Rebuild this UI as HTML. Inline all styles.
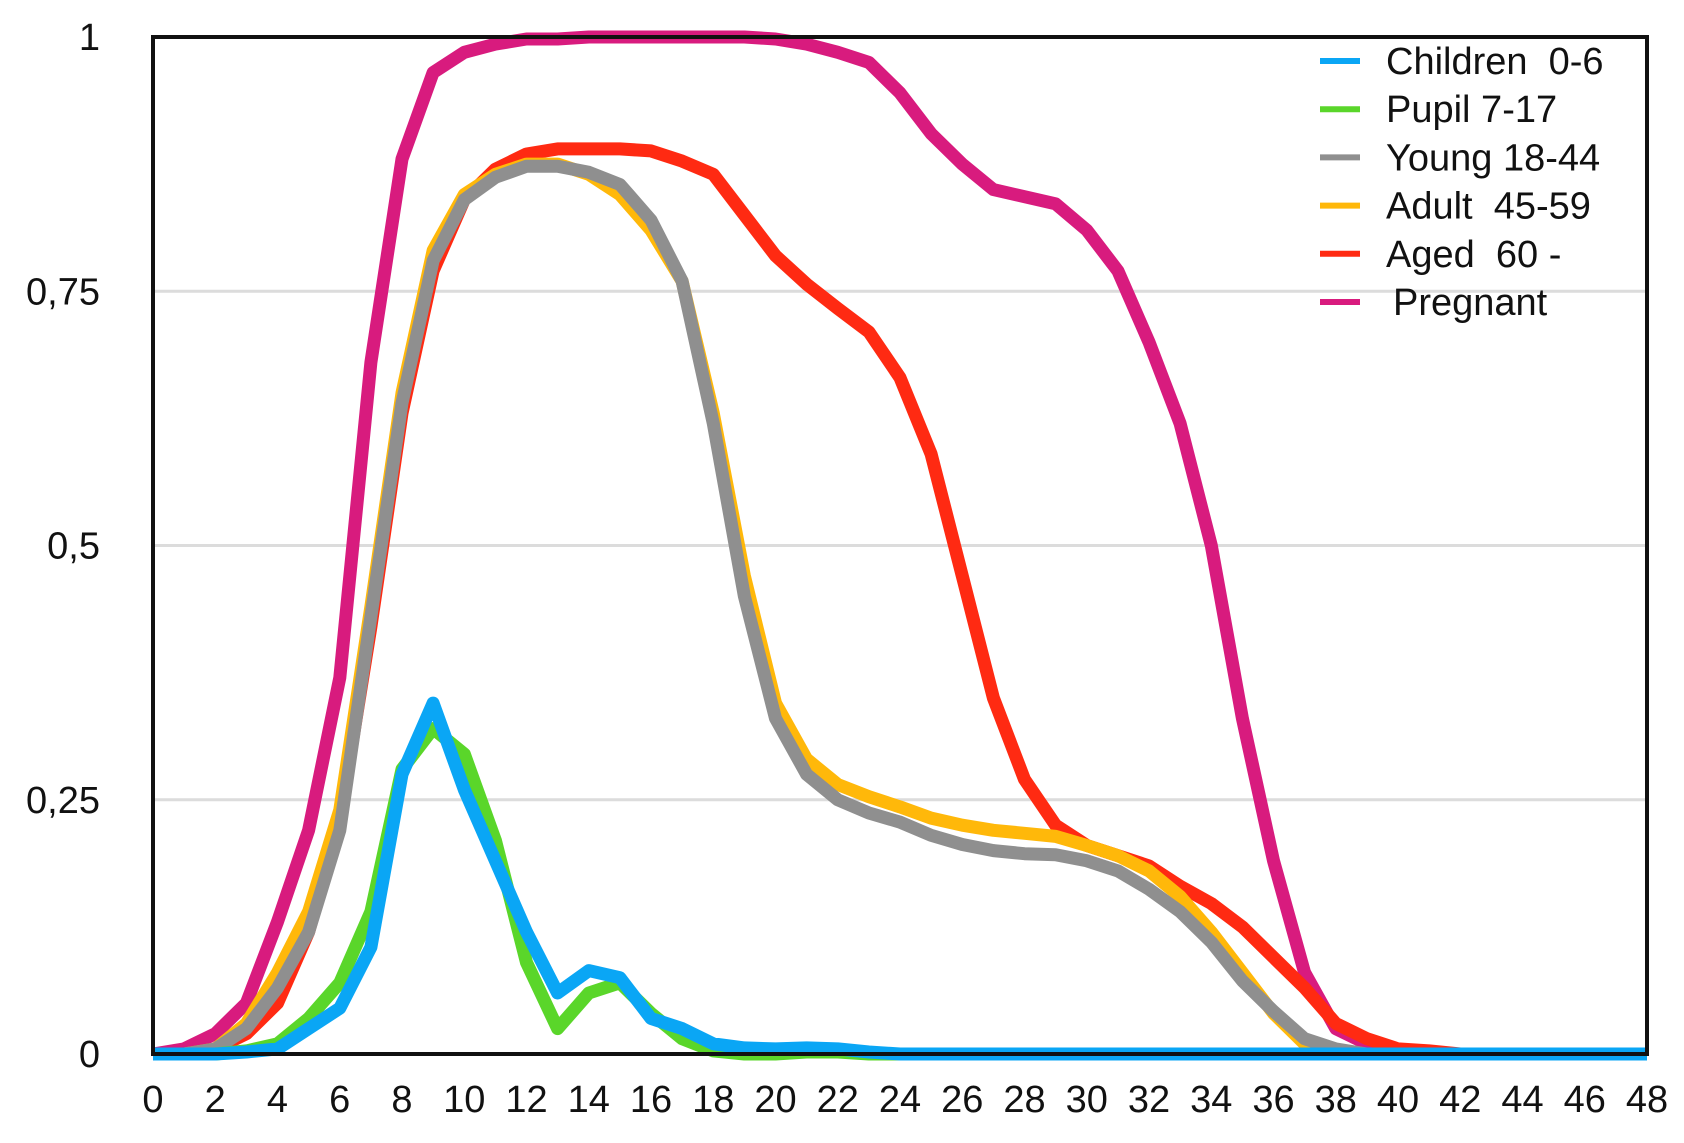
<!DOCTYPE html>
<html><head><meta charset="utf-8"><style>
html,body{margin:0;padding:0;background:#fff;}
svg{display:block;font-family:"Liberation Sans",Arial,sans-serif;}
#legend text{white-space:pre;}
</style></head><body>
<svg id="chart" width="1684" height="1143" viewBox="0 0 1684 1143">
<g id="grid"></g>
<g id="series"></g>
<rect x="153" y="37" width="1494" height="1017" fill="none" stroke="#111" stroke-width="4"/>
<g id="yticks"></g>
<g id="xticks"></g>
<g id="legend"></g>
</svg>
<script>
const xValues = [];
for (let i = 0; i <= 48; i++) xValues.push(i);
const xTickLabels = ["0","2","4","6","8","10","12","14","16","18","20","22","24","26","28","30","32","34","36","38","40","42","44","46","48"];
const yTickValues = [0, 0.25, 0.5, 0.75, 1];
const yTickLabels = ["0","0,25","0,5","0,75","1"];
const seriesNames = ["Children  0-6","Pupil 7-17","Young 18-44","Adult  45-59","Aged  60 -","Pregnant"];
const seriesColors = ["#0aa6f5","#5ad62a","#8f8f8f","#ffb80a","#ff2a12","#d81b7e"];
const children = [0,0,0,0.002,0.005,0.025,0.045,0.105,0.275,0.345,0.26,0.19,0.12,0.06,0.082,0.075,0.035,0.025,0.01,0.006,0.005,0.006,0.005,0.002,0,0,0,0,0,0,0,0,0,0,0,0,0,0,0,0,0,0,0,0,0,0,0,0,0];
const pupil = [0,0,0,0.003,0.01,0.035,0.07,0.14,0.28,0.32,0.295,0.21,0.09,0.025,0.06,0.07,0.04,0.015,0.003,0,0,0.002,0.002,0,0,0,0,0,0,0,0,0,0,0,0,0,0,0,0,0,0,0,0,0,0,0,0,0,0];
const young = [0,0,0.005,0.025,0.065,0.12,0.22,0.43,0.64,0.78,0.84,0.862,0.873,0.873,0.867,0.855,0.82,0.76,0.62,0.45,0.33,0.275,0.25,0.237,0.228,0.215,0.206,0.2,0.197,0.196,0.19,0.18,0.162,0.14,0.11,0.072,0.042,0.015,0.005,0,0,0,0,0,0,0,0,0,0];
const adult = [0,0,0.005,0.03,0.08,0.14,0.24,0.44,0.65,0.79,0.845,0.865,0.875,0.875,0.865,0.845,0.81,0.76,0.63,0.47,0.345,0.29,0.265,0.253,0.243,0.232,0.225,0.22,0.217,0.214,0.205,0.195,0.18,0.155,0.12,0.08,0.04,0.01,0,0,0,0,0,0,0,0,0,0,0];
const aged = [0,0,0.005,0.02,0.05,0.12,0.23,0.42,0.63,0.77,0.84,0.87,0.885,0.89,0.89,0.89,0.888,0.878,0.865,0.825,0.785,0.757,0.733,0.71,0.665,0.59,0.47,0.35,0.27,0.225,0.205,0.195,0.185,0.165,0.148,0.125,0.095,0.065,0.03,0.015,0.005,0.003,0,0,0,0,0,0,0];
const pregnant = [0,0.005,0.02,0.05,0.13,0.22,0.37,0.68,0.88,0.965,0.985,0.993,0.998,0.998,1,1,1,1,1,1,0.998,0.993,0.985,0.975,0.945,0.905,0.875,0.85,0.843,0.836,0.81,0.77,0.7,0.62,0.5,0.33,0.19,0.08,0.025,0.01,0.003,0,0,0,0,0,0,0,0];

const L=153,R=1647,T=37,B=1054;
const xs = v => L + (v/48)*(R-L);
const ys = v => B - v*(B-T);
const NS="http://www.w3.org/2000/svg";
function mk(tag, parent, attrs){const e=document.createElementNS(NS,tag);for(const k in attrs)e.setAttribute(k,attrs[k]);parent.appendChild(e);return e;}

const grid=document.getElementById('grid');
[0.25,0.5,0.75].forEach(v=>{
  const l=mk('line',grid,{x1:L,x2:R,y1:ys(v),y2:ys(v),stroke:'#dcdcdc','stroke-width':3});
  
  
});

const yt=document.getElementById('yticks');
yTickValues.forEach((v,i)=>{
  const t=mk('text',yt,{x:100,y:ys(v)+13,'text-anchor':'end','font-size':38,fill:'#111'});
  t.textContent=yTickLabels[i];
  
  
});
const xt=document.getElementById('xticks');
xTickLabels.forEach(s=>{
  const t=mk('text',xt,{x:xs(+s),y:1112,'text-anchor':'middle','font-size':38,fill:'#111'});
  t.textContent=s;
  
  
});

const sg=document.getElementById('series');
const drawOrder=[[pregnant,5,'pregnant-line'],[aged,4,'aged-line'],[adult,3,'adult-line'],[young,2,'young-line'],[pupil,1,'pupil-line'],[children,0,'children-line']];
drawOrder.forEach(([data,ci,name])=>{
  const d=data.map((v,i)=>(i?'L':'M')+xs(xValues[i]).toFixed(1)+' '+ys(v).toFixed(1)).join(' ');
  const p=mk('path',sg,{d:d,fill:'none',stroke:seriesColors[ci],'stroke-width':13,'stroke-linejoin':'round','stroke-linecap':'butt'});
  
  
});

const lg=document.getElementById('legend');
seriesNames.forEach((n,i)=>{
  const y=61+i*48.2;
  const s=mk('line',lg,{x1:1320,x2:1360,y1:y,y2:y,stroke:seriesColors[i],'stroke-width':6});
  
  
  const t=mk('text',lg,{x:i===5?1393:1386,y:y+13,'font-size':38,fill:'#111'});
  t.textContent=n;
  
  
});
</script>
</body></html>
